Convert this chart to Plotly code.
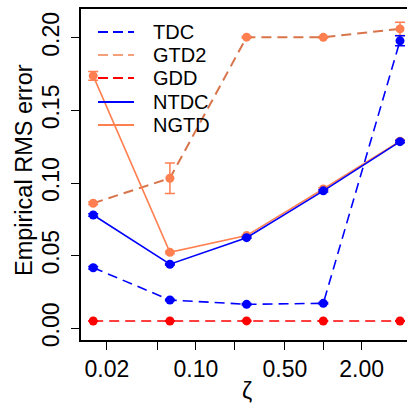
import plotly.graph_objects as go

# ---- data ----
zeta = [1/64, 1/16, 1/4, 1, 4]
series_names = ["TDC", "GTD2", "GDD", "NTDC", "NGTD"]
tdc = [0.0417, 0.0195, 0.0165, 0.0172, 0.1979]
tdc_err = [0.0008, 0.0005, 0.0005, 0.0005, 0.0034]
gtd2 = [0.0861, 0.1033, 0.2004, 0.2003, 0.2061]
gtd2_err = [0.0008, 0.0105, 0.0005, 0.0005, 0.0046]
gdd = [0.0050, 0.0050, 0.0051, 0.0050, 0.0050]
gdd_err = [0.0002, 0.0002, 0.0002, 0.0002, 0.0002]
ntdc = [0.0780, 0.0441, 0.0624, 0.0946, 0.1285]
ntdc_err = [0.0008, 0.0005, 0.0005, 0.0008, 0.0008]
ngtd = [0.1738, 0.0523, 0.0638, 0.0959, 0.1288]
ngtd_err = [0.0030, 0.0008, 0.0005, 0.0008, 0.0008]
x_tickvals = [0.02, 0.05, 0.1, 0.2, 0.5, 1, 2]
x_ticktext = ["0.02", "", "0.10", "", "0.50", "", "2.00"]
y_tickvals = [0.0, 0.05, 0.10, 0.15, 0.20]
y_ticktext = ["0.00", "0.05", "0.10", "0.15", "0.20"]

BLUE = "#0000FF"
CORAL = "#FF7F50"
CORAL_DASH = "#D8744A"
RED = "#FF0000"
FONT = "Liberation Sans, Arial, sans-serif"

styles = {
    "TDC": dict(y=tdc, e=tdc_err, color=BLUE, lcolor=BLUE, dash="10px,6px", w=1.6),
    "GTD2": dict(y=gtd2, e=gtd2_err, color=CORAL, lcolor=CORAL_DASH, dash="10px,6px", w=2.0),
    "GDD": dict(y=gdd, e=gdd_err, color=RED, lcolor=RED, dash="10px,6px", w=1.6),
    "NTDC": dict(y=ntdc, e=ntdc_err, color=BLUE, lcolor=BLUE, dash="solid", w=1.6),
    "NGTD": dict(y=ngtd, e=ngtd_err, color=CORAL, lcolor=CORAL, dash="solid", w=1.6),
}

fig = go.Figure()
for name in ["GTD2", "NGTD", "TDC", "NTDC", "GDD"]:
    s = styles[name]
    fig.add_trace(go.Scatter(
        x=zeta, y=s["y"], name=name, mode="lines+markers",
        line=dict(color=s["lcolor"], width=s["w"], dash=s["dash"]),
        marker=dict(color=s["color"], size=9),
        error_y=dict(type="data", array=s["e"], visible=True,
                     color=s["color"], thickness=1.5, width=5),
        showlegend=False,
    ))

# manual legend (R style, no box)
leg_y_px = [32, 55, 78, 102, 125]
legend_colors = {"TDC": BLUE, "GTD2": "#F4A07A", "GDD": RED, "NTDC": BLUE, "NGTD": CORAL}
W_PLOT = 407 - 81
H_PLOT = 340 - 9
for name, py in zip(series_names, leg_y_px):
    s = styles[name]
    yp = (340 - py) / H_PLOT
    fig.add_shape(type="line", xref="paper", yref="paper",
                  x0=(98 - 81) / W_PLOT, x1=(134 - 81) / W_PLOT, y0=yp, y1=yp,
                  line=dict(color=legend_colors[name], width=2,
                            dash="10px,5px" if s["dash"] != "solid" else "solid"))
    fig.add_annotation(xref="paper", yref="paper", x=(151 - 81) / W_PLOT, y=yp,
                       text=name, showarrow=False, xanchor="left", yanchor="middle",
                       font=dict(size=20, color="black", family=FONT))

# axis titles
fig.add_annotation(xref="paper", yref="paper", x=(247 - 81) / W_PLOT, y=(340 - 391) / H_PLOT,
                   text="ζ", showarrow=False, xanchor="center", yanchor="middle",
                   font=dict(size=23, color="black", family=FONT))
fig.add_annotation(xref="paper", yref="paper", x=(24 - 81) / W_PLOT, y=(340 - 170) / H_PLOT,
                   text="Empirical RMS error", showarrow=False, textangle=-90,
                   xanchor="center", yanchor="middle",
                   font=dict(size=23.5, color="black", family=FONT))

fig.update_layout(
    width=407, height=406,
    margin=dict(l=81, r=0, t=9, b=66),
    paper_bgcolor="white", plot_bgcolor="white",
    font=dict(family=FONT, size=23, color="black"),
    xaxis=dict(type="log", range=[-1.902, 0.657],
               tickvals=x_tickvals, ticktext=x_ticktext,
               ticks="outside", ticklen=8, tickwidth=1.2, tickcolor="black",
               showline=True, linecolor="black", linewidth=1.5, mirror=True,
               showgrid=False, zeroline=False,
               tickfont=dict(size=23)),
    yaxis=dict(range=[-0.00806, 0.2198],
               tickvals=y_tickvals, ticktext=y_ticktext, tickangle=-90,
               ticks="outside", ticklen=8, tickwidth=1.2, tickcolor="black",
               ticklabelstandoff=3,
               showline=True, linecolor="black", linewidth=1.5,
               showgrid=False, zeroline=False,
               tickfont=dict(size=23)),
)

fig.write_html("out.html")
